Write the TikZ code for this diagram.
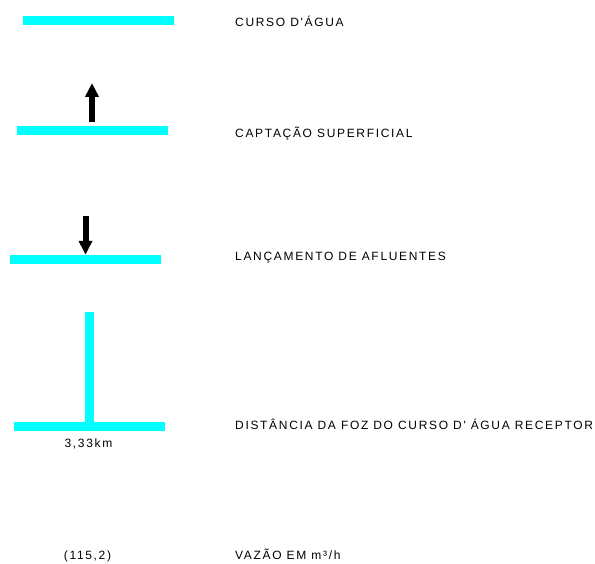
\documentclass[tikz,border=0pt]{standalone}
\usepackage{fontspec}
\setmainfont{Liberation Sans}[LetterSpace=14,Ligatures=TeXOff]
\usepackage{tikz}
\usetikzlibrary{arrows.meta}
\definecolor{rio}{HTML}{00FFFF}
\tikzset{
    bar style/.style={fill=rio,inner sep=0pt,minimum width=151pt,minimum height=9pt},
    stem style/.style={fill=rio,inner sep=0pt,minimum width=9pt,minimum height=110pt},
    label style/.style={anchor=base west,inner sep=0pt,font=\fontsize{12}{14}\selectfont},
    value style/.style={anchor=base,inner sep=0pt,font=\fontsize{12}{14}\selectfont},
    arrow style/.style={line width=6pt,-{Triangle[width=13pt,length=14pt]}},
}

\begin{document}
\begin{tikzpicture}[x=1pt,y=1pt]
\useasboundingbox (0,0) rectangle (595,563);

% legenda dos simbolos
\node [bar style] (curso) at (98.5,542.5) {};
\node [bar style] (captacao) at (92,432.5) {};
\node [bar style] (lancamento) at (85.5,303.5) {};
\node [bar style] (foz) at (89.5,136.5) {};
\node [stem style,anchor=south] (afluente) at (foz.north) {};

\coordinate (captacao tip) at (92,480);
\coordinate (lancamento src) at (85.5,347);
 \draw [arrow style] ([yshift=4pt]captacao.north)--(captacao tip);
 \draw [arrow style] (lancamento src)--(lancamento.north);

\node [value style] (km) at (88.5,115) {3,33km};
\node [value style] (vazao) at (87.5,4) {(115,2)};

% textos
\node [label style] (t curso) at (235,536) {CURSO D'ÁGUA};
\node [label style] (t captacao) at (235,425) {CAPTAÇÃO SUPERFICIAL};
\node [label style] (t lancamento) at (235,302) {LANÇAMENTO DE AFLUENTES};
\node [label style] (t foz) at (235,133) {DISTÂNCIA DA FOZ DO CURSO D' ÁGUA RECEPTOR};
\node [label style] (t vazao) at (235,4) {VAZÃO EM m³/h};

\end{tikzpicture}
\end{document}
